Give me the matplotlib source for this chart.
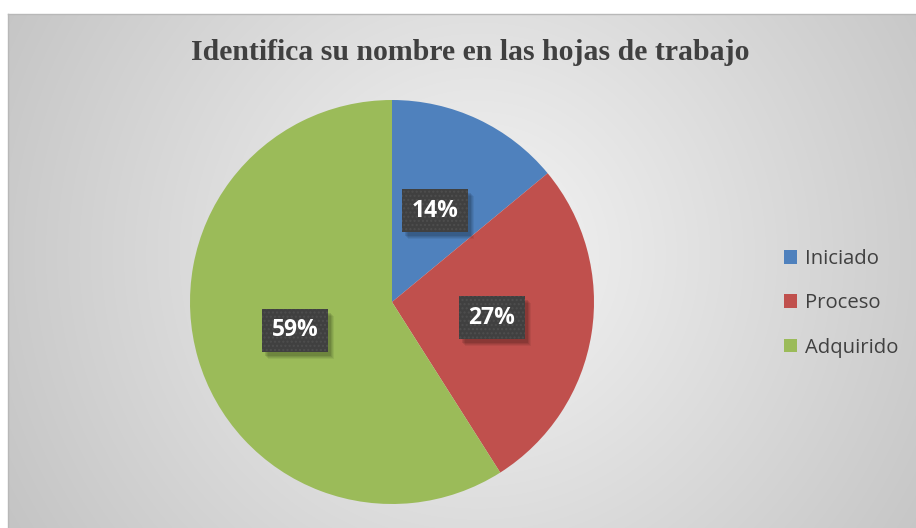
import numpy as np
import matplotlib
matplotlib.use("Agg")
import matplotlib.pyplot as plt
from matplotlib.patches import Rectangle
from matplotlib.transforms import IdentityTransform

title = "Identifica su nombre en las hojas de trabajo"
categories = ["Iniciado", "Proceso", "Adquirido"]
values = [14, 27, 59]
colors = ["#4f81bd", "#c0504d", "#9bbb59"]

W, H = 916, 528
fig = plt.figure(figsize=(W / 100, H / 100), dpi=100)
fig.patch.set_facecolor("white")

# background with radial gradient
bg = fig.add_axes([8 / W, 0, (W - 8) / W, (H - 14) / H])
bw, bh = W - 8, H - 14
yy, xx = np.mgrid[0:bh, 0:bw]
cx, cy = 470, 240
d = np.hypot(xx - cx, yy - cy)
v = 0.96 - 0.19 * np.clip(d / 540, 0, 1.2)
img = np.dstack([v, v, v])
bg.imshow(img, aspect="auto", extent=(0, bw, bh, 0), interpolation="bilinear")
bg.set_xticks([]); bg.set_yticks([])
for s in ["right", "bottom"]:
    bg.spines[s].set_visible(False)
for s in ["top", "left"]:
    bg.spines[s].set_color("#b8b8b8")
    bg.spines[s].set_linewidth(1.0)
bg.set_zorder(0)

ax = fig.add_axes([0, 0, 1, 1])
ax.patch.set_alpha(0)
ax.set_zorder(1)

tprops = dict(fontsize=16.5, fontweight="bold", family="Open Sans")
wedges, texts, autotexts = ax.pie(
    values, colors=colors, startangle=90, counterclock=False,
    center=(392, H - 302), radius=202, autopct=lambda p: f"{p:.0f}%", pctdistance=0.5,
    wedgeprops=dict(linewidth=0), textprops=dict(color="white", **tprops),
)
ax.set_xlim(0, W)
ax.set_ylim(0, H)
ax.set_aspect("equal")
ax.axis("off")

for t in autotexts:
    t.set_zorder(10)
    t.set_bbox(dict(boxstyle="square,pad=0.42", facecolor="#404040", edgecolor="#4e4e4e",
                    linewidth=0, hatch="...."))

leg = ax.legend(wedges, categories, loc="upper left",
                bbox_to_anchor=(784 / W, 1 - 249 / H), bbox_transform=fig.transFigure,
                frameon=False, labelspacing=1.2, handlelength=0.65,
                handleheight=0.65, handletextpad=0.4, borderpad=0, borderaxespad=0,
                prop=dict(family="Open Sans", size=14.6))
for t in leg.get_texts():
    t.set_color("#404040")

fig.text(470 / W, 1 - 53 / H, title, ha="center", va="center",
         fontsize=21.4, fontweight="bold", family="Liberation Serif", color="#404040")

# soft shadows behind the label boxes
fig.canvas.draw()
for t in autotexts:
    bb = t.get_bbox_patch().get_window_extent()
    for (dx, dy), a in [((6, -7), 0.06), ((5, -6), 0.07), ((4, -5), 0.08), ((3, -4), 0.10)]:
        ax.add_patch(Rectangle((bb.x0 + dx, bb.y0 + dy), bb.width, bb.height,
                               transform=IdentityTransform(), facecolor="black",
                               alpha=a, linewidth=0, zorder=9))

fig.savefig("out.png", dpi=100)
